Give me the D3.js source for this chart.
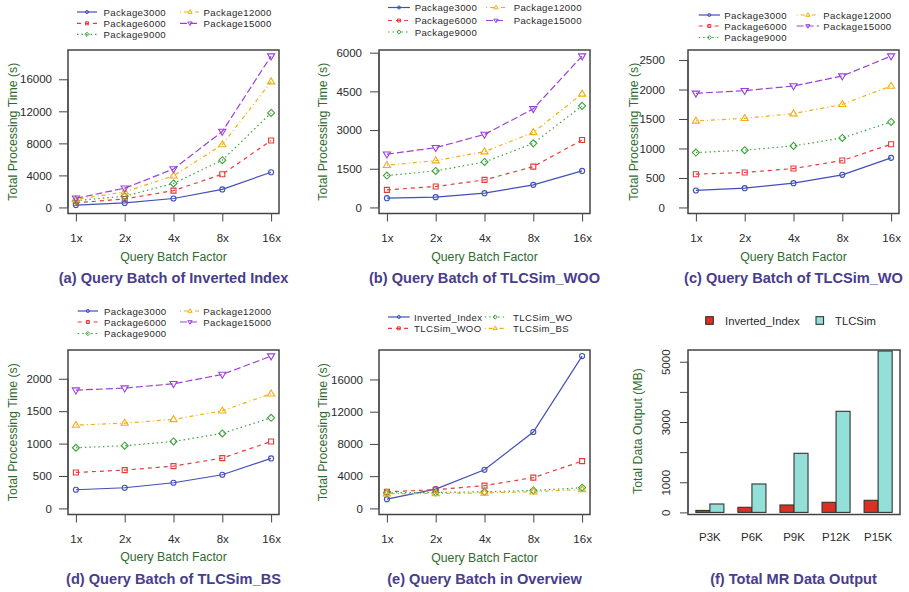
<!DOCTYPE html>
<html><head><meta charset="utf-8">
<script src="https://cdn.jsdelivr.net/npm/d3@7"></script>
<style>
body{margin:0;background:#fff}
svg{display:block}
text{font-family:"Liberation Sans",Arial,sans-serif}
</style>
</head><body>
<svg id="c" width="909" height="592"></svg>
<script>
// ---------- DATA ----------
const batchFactors = ["1x", "2x", "4x", "8x", "16x"];
const packageNames = ["Package3000", "Package6000", "Package9000", "Package12000", "Package15000"];
const methodNames = ["Inverted_Index", "TLCSim_WOO", "TLCSim_WO", "TLCSim_BS"];

// (a) Inverted Index, rows = packages
const invertedIndexTimes = [
  [300, 560, 1120, 2250, 4400],
  [580, 1060, 2100, 4150, 8350],
  [850, 1400, 3000, 5900, 11800],
  [1000, 1950, 3950, 7850, 15700],
  [1150, 2400, 4800, 9480, 18900]
];
// (b) TLCSim_WOO
const tlcsimWOOTimes = [
  [360, 400, 553, 875, 1416],
  [682, 811, 1068, 1583, 2613],
  [1236, 1416, 1763, 2484, 3938],
  [1634, 1815, 2162, 2909, 4402],
  [2065, 2317, 2830, 3822, 5869]
];
// (c) TLCSim_WO
const tlcsimWOTimes = [
  [288, 327, 412, 553, 841],
  [564, 593, 660, 796, 1072],
  [931, 971, 1044, 1179, 1450],
  [1467, 1512, 1591, 1749, 2060],
  [1936, 1981, 2060, 2229, 2568]
];
// (d) TLCSim_BS
const tlcsimBSTimes = [
  [288, 319, 396, 519, 771],
  [555, 591, 653, 776, 1033],
  [936, 967, 1033, 1157, 1398],
  [1285, 1316, 1373, 1506, 1769],
  [1825, 1856, 1923, 2067, 2350]
];
// (e) overview (Package15000 of each method)
const overviewTimes = [
  [1150, 2400, 4800, 9480, 18900],
  [2065, 2317, 2830, 3822, 5869],
  [1936, 1981, 2060, 2229, 2568],
  [1825, 1856, 1923, 2067, 2350]
];
// (f) total MR data output (MB)
const outputPackages = ["P3K", "P6K", "P9K", "P12K", "P15K"];
const outputSeries = ["Inverted_Index", "TLCSim"];
const outputInverted = [65, 169, 246, 335, 401];
const outputTLCSim = [279, 943, 1961, 3355, 5357];

const ticksA = [0, 4000, 8000, 12000, 16000];
const ticksB = [0, 1500, 3000, 4500, 6000];
const ticksC = [0, 500, 1000, 1500, 2000, 2500];
const ticksD = [0, 500, 1000, 1500, 2000];
const ticksF = [0, 1000, 2000, 3000, 4000, 5000];
const ticksFLabeled = [0, 1000, 3000, 5000];

// ---------- STYLES ----------
const seriesColors = ["#4050b8", "#e83a3a", "#3ba33b", "#f2ae12", "#9b42d6"];
const seriesDash = [null, "4,4", "1.5,3", "1,3,4,3", "7,3"];
const seriesShapes = ["circle", "square", "diamond", "triUp", "triDown"];
const titleColor = "#483d8b";
const axisTitleColor = "#2e6b2e";
const tickColor = "#2a2a2a";
const boxColor = "#444";

const svg = d3.select("#c");

function shapePath(shape, s) {
  switch (shape) {
    case "circle": return d3.symbol(d3.symbolCircle, 20 * s * s)();
    case "square": { const h = 2.5 * s; return `M${-h},${-h}H${h}V${h}H${-h}Z`; }
    case "diamond": { const h = 3.5 * s; return `M0,${-h}L${h},0L0,${h}L${-h},0Z`; }
    case "triUp": { const w = 3.6 * s, t = 3.8 * s, b = 2.2 * s; return `M0,${-t}L${w},${b}L${-w},${b}Z`; }
    case "triDown": { const w = 3.6 * s, t = 3.8 * s, b = 2.2 * s; return `M0,${t}L${w},${-b}L${-w},${-b}Z`; }
  }
}

function linePanel(cfg) {
  const g = svg.append("g");
  const {L, R, T, B} = cfg;
  const maxV = d3.max(cfg.data.flat());
  const x = d3.scalePoint().domain(batchFactors).range([L + 7.9, R - 7.9]);
  const y = d3.scaleLinear().domain([-0.04 * maxV, 1.04 * maxV]).range([B, T]);

  // y axis
  const ya = g.append("g").attr("transform", `translate(${L},0)`)
    .call(d3.axisLeft(y).tickValues(cfg.ticks).tickSize(9).tickPadding(cfg.labPad).tickFormat(d3.format("d")));
  ya.select(".domain").attr("stroke", boxColor).attr("d", `M0,${y(cfg.ticks[0])}V${y(cfg.ticks[cfg.ticks.length - 1])}`);
  ya.selectAll(".tick line").attr("stroke", boxColor);
  ya.selectAll(".tick text").attr("fill", tickColor).style("font-size", "11.5px").style("font-family", '"Liberation Sans",Arial,sans-serif');

  // x axis
  const xa = g.append("g").attr("transform", `translate(0,${B})`)
    .call(d3.axisBottom(x).tickSize(8).tickPadding(0));
  xa.select(".domain").attr("stroke", boxColor).attr("d", `M${x(batchFactors[0])},0H${x(batchFactors[4])}`);
  xa.selectAll(".tick line").attr("stroke", boxColor);
  xa.selectAll(".tick text").attr("fill", tickColor).attr("dy", null).attr("y", 24).attr("dominant-baseline", "central")
    .style("font-size", "11.5px").style("font-family", '"Liberation Sans",Arial,sans-serif');

  // lines and markers
  cfg.data.forEach((vals, i) => {
    const line = d3.line().x((d, j) => x(batchFactors[j])).y(d => y(d));
    g.append("path").attr("d", line(vals)).attr("fill", "none")
      .attr("stroke", seriesColors[i]).attr("stroke-width", 1.2)
      .attr("stroke-dasharray", seriesDash[i]);
    g.selectAll(null).data(vals).enter().append("path")
      .attr("d", shapePath(seriesShapes[i], 1))
      .attr("transform", (d, j) => `translate(${x(batchFactors[j])},${y(d)})`)
      .attr("fill", "none").attr("stroke", seriesColors[i]).attr("stroke-width", 1.1);
  });

  // box
  g.append("rect").attr("x", L).attr("y", T).attr("width", R - L).attr("height", B - T)
    .attr("fill", "none").attr("stroke", boxColor).attr("stroke-width", 1.5);

  // axis titles
  const cx = (L + R) / 2, cy = (T + B) / 2;
  g.append("text").attr("x", cx).attr("y", cfg.xTitleY).attr("text-anchor", "middle")
    .attr("dominant-baseline", "central").attr("fill", axisTitleColor).style("font-size", "12.3px")
    .text("Query Batch Factor");
  g.append("text").attr("transform", `translate(${cfg.yTitleX},${cy}) rotate(-90)`).attr("text-anchor", "middle")
    .attr("dominant-baseline", "central").attr("fill", axisTitleColor).style("font-size", "12.3px")
    .text("Total Processing Time (s)");
  g.append("text").attr("x", cx).attr("y", cfg.titleY).attr("text-anchor", "middle")
    .attr("dominant-baseline", "central").attr("fill", titleColor).style("font-size", "14.6px").style("font-weight", "bold")
    .text(cfg.title);

  // legend
  cfg.legendNames.forEach((name, i) => {
    const col = cfg.legendCols[i], row = cfg.legendRows[i];
    const lx0 = cfg.legX[col][0], lx1 = cfg.legX[col][1], tx = cfg.legX[col][2];
    const ly = cfg.legY[row];
    g.append("line").attr("x1", lx0).attr("x2", lx1).attr("y1", ly).attr("y2", ly)
      .attr("stroke", seriesColors[i]).attr("stroke-width", 1.2).attr("stroke-dasharray", seriesDash[i]);
    g.append("path").attr("d", shapePath(seriesShapes[i], 0.6)).attr("transform", `translate(${(lx0 + lx1) / 2},${ly})`)
      .attr("fill", "none").attr("stroke", seriesColors[i]).attr("stroke-width", 1);
    g.append("text").attr("x", tx).attr("y", ly).attr("dominant-baseline", "central")
      .attr("fill", "#2a2a2a").style("font-size", "9.6px").style("letter-spacing", "0.35px").text(name);
  });
}

const pkgCols = [0, 0, 0, 1, 1], pkgRows = [0, 1, 2, 0, 1];

linePanel({L: 68, R: 279, T: 50, B: 213.5, data: invertedIndexTimes, ticks: ticksA, labPad: 7,
  xTitleY: 256.7, yTitleX: 13.3, titleY: 278.3, title: "(a) Query Batch of Inverted Index",
  legendNames: packageNames, legendCols: pkgCols, legendRows: pkgRows,
  legX: [[77, 97, 103.5], [180, 200, 203.5]], legY: [12, 23.3, 34.3]});

linePanel({L: 379, R: 590, T: 50, B: 213.5, data: tlcsimWOOTimes, ticks: ticksB, labPad: 8,
  xTitleY: 256.7, yTitleX: 323, titleY: 277.5, title: "(b) Query Batch of TLCSim_WOO",
  legendNames: packageNames, legendCols: pkgCols, legendRows: pkgRows,
  legX: [[388, 410, 414.7], [486, 506, 513.7]], legY: [7.5, 20.5, 32]});

linePanel({L: 688, R: 899, T: 50, B: 213.5, data: tlcsimWOTimes, ticks: ticksC, labPad: 14,
  xTitleY: 256.7, yTitleX: 634.3, titleY: 278.3, title: "(c) Query Batch of TLCSim_WO",
  legendNames: packageNames, legendCols: pkgCols, legendRows: pkgRows,
  legX: [[698.7, 720, 724.3], [796.7, 819, 823.3]], legY: [15, 26, 37.5]});

linePanel({L: 68, R: 279, T: 350, B: 514.5, data: tlcsimBSTimes, ticks: ticksD, labPad: 7,
  xTitleY: 557, yTitleX: 12.7, titleY: 579.3, title: "(d) Query Batch of TLCSim_BS",
  legendNames: packageNames, legendCols: pkgCols, legendRows: pkgRows,
  legX: [[77.7, 98, 104], [180, 200, 203.3]], legY: [311, 322, 333.5]});

linePanel({L: 379, R: 590, T: 350, B: 514.5, data: overviewTimes, ticks: ticksA, labPad: 7,
  xTitleY: 557.5, yTitleX: 323, titleY: 579.3, title: "(e) Query Batch in Overview",
  legendNames: methodNames, legendCols: [0, 0, 1, 1], legendRows: [0, 1, 0, 1],
  legX: [[388, 409.7, 414], [484.7, 505.7, 513]], legY: [317, 328.3]});

// ---------- (f) bar chart ----------
(function () {
  const L = 688, R = 900, T = 350, B = 514.5;
  const g = svg.append("g");
  const x = d3.scaleLinear().domain([0.44, 15.56]).range([L, R]);
  const y = d3.scaleLinear().domain([-70, 5390]).range([B, T]);
  const barColors = ["#dc3122", "#93e0d8"];
  const seriesVals = [outputInverted, outputTLCSim];

  seriesVals.forEach((vals, s) => {
    g.selectAll(null).data(vals).enter().append("rect")
      .attr("x", (d, i) => x(1 + 3 * i + s)).attr("width", (d, i) => x(2 + 3 * i + s) - x(1 + 3 * i + s))
      .attr("y", d => y(d)).attr("height", d => y(0) - y(d))
      .attr("fill", barColors[s]).attr("stroke", "#333").attr("stroke-width", 1.1);
  });

  // y axis
  const ya = g.append("g").attr("transform", `translate(${L},0)`)
    .call(d3.axisLeft(y).tickValues(ticksF).tickSize(8).tickFormat(d => ticksFLabeled.includes(d) ? d : ""));
  ya.select(".domain").attr("stroke", boxColor).attr("d", `M0,${y(0)}V${y(5000)}`);
  ya.selectAll(".tick line").attr("stroke", boxColor);
  ya.selectAll(".tick text").attr("fill", tickColor).attr("x", null).attr("dy", null)
    .attr("transform", "translate(-22,0) rotate(-90)").attr("text-anchor", "middle").attr("dominant-baseline", "central")
    .style("font-size", "11.5px").style("font-family", '"Liberation Sans",Arial,sans-serif');

  // category labels
  g.selectAll(null).data(outputPackages).enter().append("text")
    .attr("x", (d, i) => x(2 + 3 * i)).attr("y", 537).attr("text-anchor", "middle").attr("dominant-baseline", "central")
    .attr("fill", tickColor).style("font-size", "11.5px").text(d => d);

  g.append("rect").attr("x", L).attr("y", T).attr("width", R - L).attr("height", B - T)
    .attr("fill", "none").attr("stroke", boxColor).attr("stroke-width", 1.5);

  g.append("text").attr("transform", `translate(637.7,431) rotate(-90)`).attr("text-anchor", "middle")
    .attr("dominant-baseline", "central").attr("fill", axisTitleColor).style("font-size", "12.3px")
    .text("Total Data Output (MB)");
  g.append("text").attr("x", 793.5).attr("y", 578.7).attr("text-anchor", "middle")
    .attr("dominant-baseline", "central").attr("fill", titleColor).style("font-size", "14.6px").style("font-weight", "bold")
    .text("(f) Total MR Data Output");

  // legend
  const legX = [[705.7, 725], [816, 835]];
  outputSeries.forEach((name, s) => {
    g.append("rect").attr("x", legX[s][0]).attr("y", 316.7).attr("width", 7.6).attr("height", 7.6)
      .attr("fill", barColors[s]).attr("stroke", "#222").attr("stroke-width", 1);
    g.append("text").attr("x", legX[s][1]).attr("y", 320.7).attr("dominant-baseline", "central")
      .attr("fill", "#2a2a2a").style("font-size", "11.3px").text(name);
  });
})();
</script>
</body></html>
